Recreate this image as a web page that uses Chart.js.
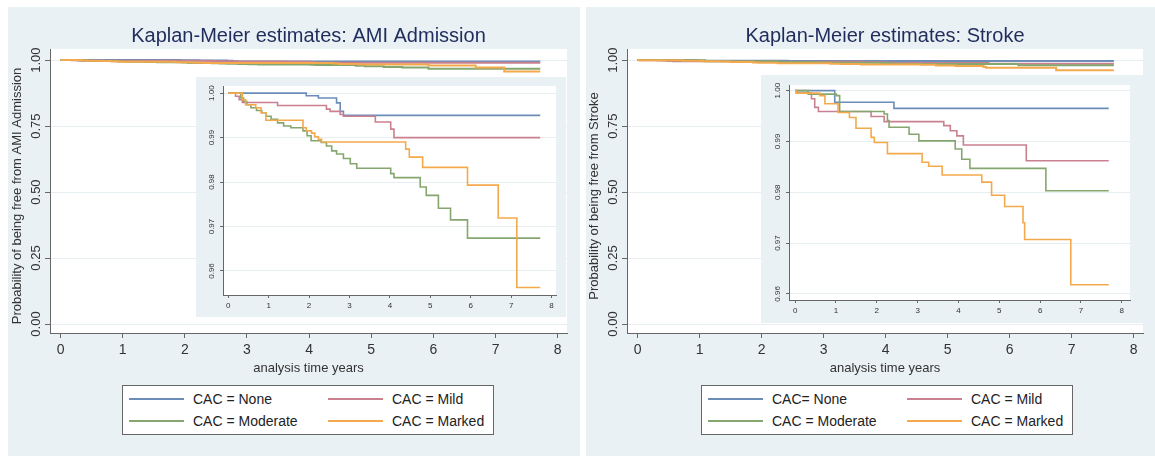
<!DOCTYPE html>
<html>
<head>
<meta charset="utf-8">
<script src="https://cdn.jsdelivr.net/npm/chart.js@4.4.1/dist/chart.umd.min.js"></script>
<style>
  html, body { margin: 0; padding: 0; background: #fff; }
  body { width: 1155px; height: 456px; position: relative; overflow: hidden; font-family: "Liberation Sans", Arial, sans-serif; }
  .panel { position: absolute; top: 7px; height: 449px; background: #e9f1f4; }
  .panel canvas { position: absolute; }
  .inset { background: #e9f1f4; }
  .legend { position: absolute; top: 378px; width: 372px; height: 50px; background: #fff; border: 1px solid #666; box-sizing: border-box; }
  .legend .item { position: absolute; height: 20px; line-height: 20px; font-size: 14px; color: #222; white-space: nowrap; }
  .legend .swatch { position: absolute; left: 0; top: 9px; width: 55px; height: 2px; }
  .legend .label { position: absolute; left: 64px; }
</style>
</head>
<body>
<div class="panel" style="left:8px;width:572px">
  <canvas id="ami-main" width="572" height="449" style="left:0;top:0"></canvas>
  <canvas id="ami-inset" class="inset" width="370" height="240" style="left:188px;top:70px"></canvas>
  <div class="legend" id="ami-legend" style="left:114px"></div>
</div>
<div class="panel" style="left:586px;width:569px">
  <canvas id="stroke-main" width="569" height="449" style="left:0;top:0"></canvas>
  <canvas id="stroke-inset" class="inset" width="382" height="248" style="left:175px;top:68px"></canvas>
  <div class="legend" id="stroke-legend" style="left:115px"></div>
</div>
<script>
'use strict';

// series order: None, Mild, Moderate, Marked
const seriesColors = ['#6b8db7', '#c9808f', '#86a66f', '#f4a94d'];
const amiLegend = ['CAC = None', 'CAC = Mild', 'CAC = Moderate', 'CAC = Marked'];
const strokeLegend = ['CAC= None', 'CAC = Mild', 'CAC = Moderate', 'CAC = Marked'];

const timeTicks = [0, 1, 2, 3, 4, 5, 6, 7, 8];
const mainProbTicks = [0, 0.25, 0.5, 0.75, 1];
const insetProbTicks = [0.96, 0.97, 0.98, 0.99, 1];

// Kaplan-Meier steps, [years, survival]
const amiNone = [[0, 1], [1.93, 0.9994], [2.23, 0.9989], [2.68, 0.9978], [2.77, 0.9959], [2.85, 0.995], [7.72, 0.995]];
const amiMild = [[0, 1], [0.18, 0.9993], [0.27, 0.9985], [0.35, 0.9979], [1.22, 0.9972], [2.43, 0.9964],
  [2.52, 0.9959], [2.77, 0.9952], [2.85, 0.9948], [3.64, 0.9935], [4.02, 0.9919], [4.1, 0.99], [7.72, 0.99]];
const amiModerate = [[0, 1], [0.31, 0.9989], [0.38, 0.9981], [0.46, 0.9974], [0.56, 0.9967], [0.7, 0.9961],
  [0.83, 0.9956], [0.93, 0.9948], [1.06, 0.9941], [1.22, 0.9933], [1.37, 0.9926], [1.55, 0.9922], [1.85, 0.9915],
  [1.95, 0.9904], [2.05, 0.9893], [2.3, 0.9889], [2.43, 0.9881], [2.56, 0.987], [2.68, 0.9863], [2.85, 0.9853],
  [3.02, 0.9841], [3.18, 0.9831], [4.02, 0.9819], [4.1, 0.981], [4.75, 0.9789], [4.9, 0.977], [5.2, 0.9741],
  [5.5, 0.9715], [5.92, 0.9674], [7.72, 0.9674]];
const amiMarked = [[0, 1], [0.35, 0.9985], [0.43, 0.9974], [0.68, 0.9967], [0.81, 0.9956], [0.93, 0.9939],
  [1.85, 0.9922], [1.93, 0.9915], [2.06, 0.991], [2.14, 0.9902], [2.23, 0.9896], [2.31, 0.989], [4.39, 0.9874],
  [4.48, 0.9856], [4.81, 0.9833], [5.92, 0.9793], [6.68, 0.9719], [7.14, 0.9563], [7.72, 0.9563]];

const strokeNone = [[0, 1], [0.97, 0.9977], [2.42, 0.9965], [7.68, 0.9965]];
const strokeMild = [[0, 1], [0.03, 0.9995], [0.4, 0.9984], [0.48, 0.9967], [0.57, 0.9959], [1.86, 0.9949],
  [2.18, 0.9939], [3.64, 0.9931], [3.8, 0.9921], [3.96, 0.9911], [4.12, 0.9893], [5.66, 0.9862], [7.68, 0.9862]];
const strokeModerate = [[0, 1], [0.32, 0.9993], [1.01, 0.999], [1.09, 0.9959], [2.18, 0.9954], [2.26, 0.9941],
  [2.3, 0.9928], [2.79, 0.9914], [3.03, 0.9901], [3.92, 0.9885], [4.08, 0.9865], [4.28, 0.9847], [6.14, 0.9803],
  [7.68, 0.9803]];
const strokeMarked = [[0, 1], [0.03, 0.9995], [0.6, 0.999], [0.73, 0.9974], [1.05, 0.9957], [1.33, 0.9947],
  [1.49, 0.9926], [1.86, 0.9908], [1.94, 0.9898], [2.26, 0.9876], [3.11, 0.9859], [3.27, 0.9851], [3.6, 0.9834],
  [4.57, 0.982], [4.81, 0.9794], [5.13, 0.9772], [5.58, 0.974], [5.62, 0.9707], [6.75, 0.9618], [7.68, 0.9618]];

Chart.defaults.font.family = "'Liberation Sans', Arial, sans-serif";
const family = Chart.defaults.font.family;

// white plot region, rotated y labels, titles (Stata look)
const furniture = {
    id: 'furniture',
    beforeDraw(chart) {
        const {ctx, chartArea: a} = chart;
        ctx.save();
        ctx.fillStyle = '#ffffff';
        ctx.fillRect(a.left, a.top, a.right - a.left, a.bottom - a.top);
        ctx.restore();
    },
    afterDraw(chart, args, opts) {
        const {ctx, chartArea: a} = chart;
        const ys = chart.scales.y;
        ctx.save();
        ctx.textAlign = 'center';
        ctx.textBaseline = 'middle';
        ctx.fillStyle = '#333';
        ctx.font = opts.tickSize + 'px ' + family;
        ys.ticks.forEach(t => {
            ctx.save();
            ctx.translate(a.left - opts.tickGap, ys.getPixelForValue(t.value));
            ctx.rotate(-Math.PI / 2);
            ctx.fillText(t.value.toFixed(2), 0, 0);
            ctx.restore();
        });
        if (opts.title) {
            ctx.fillStyle = '#1f2c5c';
            ctx.font = '20px ' + family;
            ctx.fillText(opts.title, (a.left + a.right) / 2, a.top - 13);
            ctx.fillStyle = '#333';
            ctx.font = '13px ' + family;
            ctx.save();
            ctx.translate(a.left - 33, (a.top + a.bottom) / 2 + 5);
            ctx.rotate(-Math.PI / 2);
            ctx.fillText(opts.yTitle, 0, 0);
            ctx.restore();
            ctx.fillText(opts.xTitle, (a.left + a.right) / 2, a.bottom + 35);
        }
        ctx.restore();
    }
};

function buildChart(canvas, series, o) {
    return new Chart(canvas, {
        type: 'line',
        data: {
            datasets: series.map((pts, i) => ({
                label: amiLegend[i],
                data: pts.map(p => ({x: p[0], y: p[1]})),
                borderColor: seriesColors[i],
                borderWidth: o.lineWidth,
                stepped: 'before',
                pointRadius: 0,
                fill: false,
                order: series.length - 1 - i
            }))
        },
        options: {
            responsive: false,
            animation: false,
            events: [],
            layout: {padding: o.padding},
            plugins: {
                legend: {display: false},
                tooltip: {enabled: false},
                furniture: o.furniture
            },
            scales: {
                x: {
                    type: 'linear', min: o.xMin, max: o.xMax,
                    afterBuildTicks: s => { s.ticks = timeTicks.map(v => ({value: v})); },
                    afterFit: s => { s.height = o.xAxisH; },
                    grid: {drawOnChartArea: false, tickLength: o.tickLen, tickColor: '#666'},
                    border: {color: '#666', width: 1},
                    ticks: {font: {size: o.xFont}, color: '#333', padding: o.xPad, maxRotation: 0,
                        autoSkip: false, callback: v => String(v)}
                },
                y: {
                    type: 'linear', min: o.yMin, max: o.yMax,
                    afterBuildTicks: s => { s.ticks = o.yTicks.map(v => ({value: v})); },
                    afterFit: s => { s.width = o.yAxisW; },
                    grid: {color: '#e6eef1', tickLength: o.tickLen, tickColor: '#666'},
                    border: {color: '#666', width: 1},
                    ticks: {display: false}
                }
            }
        },
        plugins: [furniture]
    });
}

function buildLegend(el, labels) {
    labels.forEach((text, i) => {
        const item = document.createElement('div');
        item.className = 'item';
        item.style.left = (6 + (i % 2) * 199) + 'px';
        item.style.top = (3 + Math.floor(i / 2) * 22) + 'px';
        const sw = document.createElement('span');
        sw.className = 'swatch';
        sw.style.background = seriesColors[i];
        const lb = document.createElement('span');
        lb.className = 'label';
        lb.textContent = text;
        item.appendChild(sw);
        item.appendChild(lb);
        el.appendChild(item);
    });
}

const amiSeries = [amiNone, amiMild, amiModerate, amiMarked];
const strokeSeries = [strokeNone, strokeMild, strokeModerate, strokeMarked];

const mainBase = {
    lineWidth: 2, tickLen: 5, xFont: 14, xPad: 4, xAxisH: 30, yAxisW: 10,
    xMin: -0.17, xMax: 8.15, yMin: -0.034, yMax: 1.042, yTicks: mainProbTicks
};

buildChart(document.getElementById('ami-main'), amiSeries, Object.assign({}, mainBase, {
    padding: {left: 32, right: 13, top: 42, bottom: 93},
    furniture: {tickSize: 13, tickGap: 14, title: 'Kaplan-Meier estimates: AMI Admission',
        yTitle: 'Probability of being free from AMI Admission', xTitle: 'analysis time years'}
}));

buildChart(document.getElementById('stroke-main'), strokeSeries, Object.assign({}, mainBase, {
    padding: {left: 31, right: 12, top: 42, bottom: 93},
    furniture: {tickSize: 13, tickGap: 14, title: 'Kaplan-Meier estimates: Stroke',
        yTitle: 'Probability of being free from Stroke', xTitle: 'analysis time years'}
}));

const insetBase = {
    lineWidth: 1.6, tickLen: 3, xFont: 8, xPad: 3, xAxisH: 16, yAxisW: 6, yTicks: insetProbTicks
};

buildChart(document.getElementById('ami-inset'), amiSeries, Object.assign({}, insetBase, {
    xMin: -0.13, xMax: 8.11, yMin: 0.9546, yMax: 1.0016,
    padding: {left: 21, right: 10, top: 9, bottom: 6},
    furniture: {tickSize: 8, tickGap: 11}
}));

buildChart(document.getElementById('stroke-inset'), strokeSeries, Object.assign({}, insetBase, {
    xMin: -0.15, xMax: 8.2, yMin: 0.9588, yMax: 1.0011,
    padding: {left: 22, right: 13, top: 10, bottom: 7},
    furniture: {tickSize: 8, tickGap: 11}
}));

buildLegend(document.getElementById('ami-legend'), amiLegend);
buildLegend(document.getElementById('stroke-legend'), strokeLegend);
</script>
</body>
</html>
